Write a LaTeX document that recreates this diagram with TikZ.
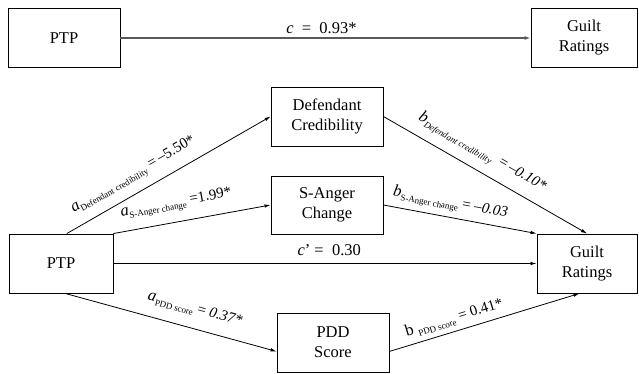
\documentclass[tikz,border=0pt]{standalone}
\usepackage{fontspec}
\setmainfont{Liberation Serif}
\usetikzlibrary{arrows.meta,calc}
\newcommand\plab[3]{#1\raisebox{-0.45ex}{\fontsize{9}{9}\selectfont #2}{\fontsize{15}{18}\selectfont #3}}
\begin{document}
\begin{tikzpicture}[x=1pt,y=-1pt,
  box/.style={draw, line width=0.9pt, inner sep=0pt, align=center, minimum height=59pt, font=\fontsize{16.5}{20}\selectfont},
  link/.style={line width=0.8pt, -{Latex[length=6pt,width=3.5pt]}},
  toplink/.style={line width=1.6pt, draw=black!65, -{Latex[length=6pt,width=4pt]}},
  lab/.style={font=\fontsize{16.5}{20}\selectfont, sloped, inner sep=0pt}]
\useasboundingbox (0,0) rectangle (639,374);
% top model
\node[box, minimum width=112pt] (ptpTop) at (64,38) {PTP};
\node[box, minimum width=106pt] (guiltTop) at (584,38) {Guilt\\Ratings};
\draw[toplink] (ptpTop) -- node[lab, pos=0.49, yshift=10pt] {\textit{c} \ = \ 0.93*} (guiltTop);
% mediation model
\node[box, minimum width=104pt] (ptp) at (61,263.5) {PTP};
\node[box, minimum width=100pt] (guilt) at (587,263.5) {Guilt\\Ratings};
\node[box, minimum width=112pt] (def) at (327,116.5) {Defendant\\Credibility};
\node[box, minimum width=112pt, minimum height=58pt] (sanger) at (327,205) {S-Anger\\Change};
\node[box, minimum width=112pt] (pdd) at (333,342.5) {PDD\\Score};
\draw[link] (ptp.79) -- node[lab, pos=0.37, yshift=17pt] {\plab{\textit{a}}{Defendant credibility}{ =\,–5.50*}} (def.west);
\draw[link] (ptp.north east) -- node[lab, pos=0.42, yshift=18pt] {\plab{\textit{a}}{S-Anger change}{ =1.99*}} (sanger.west);
\draw[link] (ptp.east) -- node[lab, pos=0.51, yshift=13pt] {\textit{c}’ = \ 0.30} (guilt.west);
\draw[link] (ptp.278) -- node[lab, pos=0.59, yshift=19pt] {\plab{\textit{a}}{PDD score}{ = \textit{0.37*}}} (pdd.189);
\draw[link] (def.east) -- node[lab, pos=0.44, yshift=18pt] {\plab{\textit{b}}{\itshape Defendant credibility}{ \ =\,\textit{–0.10*}}} (guilt.north);
\draw[link] (sanger.east) -- node[lab, pos=0.42, yshift=14pt] {\plab{\textit{b}}{S-Anger change}{ = \textit{–0.03}}} (guilt.north west);
\draw[link] (pdd.-9) -- node[lab, pos=0.36, yshift=13pt] {\plab{b\ }{PDD score}{ = 0.41*}} (guilt.256);
\end{tikzpicture}
\end{document}
